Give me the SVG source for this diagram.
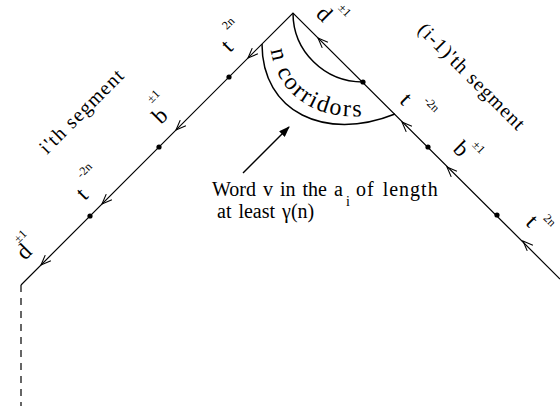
<svg xmlns="http://www.w3.org/2000/svg" xmlns:xlink="http://www.w3.org/1999/xlink" width="560" height="406" viewBox="0 0 560 406">
<style>
.ln{fill:none;stroke:#000;stroke-width:1.2}
.arc{fill:none;stroke:#000;stroke-width:1.5}
.t{font-family:"Liberation Serif","Times New Roman",serif;fill:#000}
.big{font-size:23px}
.sup{font-size:12px}
.lab{font-size:20px}
.cap{font-size:20px;word-spacing:2px}
</style>
<defs>
<path id="chev" d="M-10,-4 L0,0 L-10,4" fill="none" stroke="#000" stroke-width="1.1"/>
<marker id="ah" markerWidth="11" markerHeight="8" refX="10" refY="4" orient="auto" markerUnits="userSpaceOnUse">
<path d="M0,0 L11,4 L0,8 Z" fill="#000"/>
</marker>
<path id="cpath" d="M270,41 C273,102 330,130 394,110"/>
</defs>
<g id="connectors">
<path class="ln" d="M21,285 L293,13 L560,279"/>
<path class="ln" d="M21,285 L21,406" stroke-dasharray="7,6"/>
<use xlink:href="#chev" transform="translate(248,58) rotate(135)"/>
<use xlink:href="#chev" transform="translate(176,130) rotate(135)"/>
<use xlink:href="#chev" transform="translate(102,204) rotate(135)"/>
<use xlink:href="#chev" transform="translate(41,265) rotate(135)"/>
<use xlink:href="#chev" transform="translate(318,38) rotate(-135)"/>
<use xlink:href="#chev" transform="translate(402,122) rotate(-135)"/>
<use xlink:href="#chev" transform="translate(447,167) rotate(-135)"/>
<use xlink:href="#chev" transform="translate(523,241) rotate(-135)"/>
<path class="arc" d="M243,173 L289,127" marker-end="url(#ah)"/>
</g>
<g id="dots">
<circle cx="229" cy="77" r="2.6"/>
<circle cx="159" cy="147" r="2.6"/>
<circle cx="90" cy="216" r="2.6"/>
<circle cx="363" cy="82" r="2.6"/>
<circle cx="428" cy="147" r="2.6"/>
<circle cx="497" cy="215" r="2.6"/>
</g>
<g id="corridors">
<path class="arc" d="M293,13 A70,69 0 0 0 363,82"/>
<path class="arc" d="M262,44 C262,112 325,142 395,114"/>
<text class="t" font-size="24" letter-spacing="2"><textPath xlink:href="#cpath" startOffset="9">n corridors</textPath></text>
</g>
<g id="left-labels" class="t">
<text class="big" text-anchor="middle" transform="translate(232,51) rotate(-45)">t</text>
<text class="sup" text-anchor="middle" transform="translate(231,26) rotate(-45)">2n</text>
<text class="big" text-anchor="middle" transform="translate(165,121) rotate(-45)">b</text>
<text class="sup" text-anchor="middle" transform="translate(156,99) rotate(-45)">±1</text>
<text class="big" text-anchor="middle" transform="translate(87,199) rotate(-45)">t</text>
<text class="sup" text-anchor="middle" transform="translate(87,173) rotate(-45)">-2n</text>
<text class="big" text-anchor="middle" transform="translate(29,257) rotate(-45)">d</text>
<text class="sup" text-anchor="middle" transform="translate(23,239) rotate(-45)">±1</text>
<text class="lab" text-anchor="middle" textLength="110" lengthAdjust="spacing" transform="translate(86,116) rotate(-45)">i'th segment</text>
</g>
<g id="right-labels" class="t">
<text class="big" text-anchor="middle" transform="translate(319,19) rotate(45)">d</text>
<text class="sup" text-anchor="middle" transform="translate(342,13) rotate(45)">±1</text>
<text class="big" text-anchor="middle" transform="translate(401,104) rotate(45)">t</text>
<text class="sup" text-anchor="middle" transform="translate(429,107) rotate(45)">-2n</text>
<text class="big" text-anchor="middle" transform="translate(456,154) rotate(45)">b</text>
<text class="sup" text-anchor="middle" transform="translate(476,150) rotate(45)">±1</text>
<text class="big" text-anchor="middle" transform="translate(527,226) rotate(45)">t</text>
<text class="sup" text-anchor="middle" transform="translate(547,223) rotate(45)">2n</text>
<text class="lab" text-anchor="middle" textLength="142" lengthAdjust="spacing" transform="translate(467,81) rotate(45)">(i-1)'th segment</text>
</g>
<g id="caption" class="t cap">
<text x="212" y="196">Word v in the a</text>
<text x="346" y="206" font-size="14">i</text>
<text x="356" y="196" letter-spacing="1">of length</text>
<text x="217" y="218">at least γ(n)</text>
</g>
</svg>
